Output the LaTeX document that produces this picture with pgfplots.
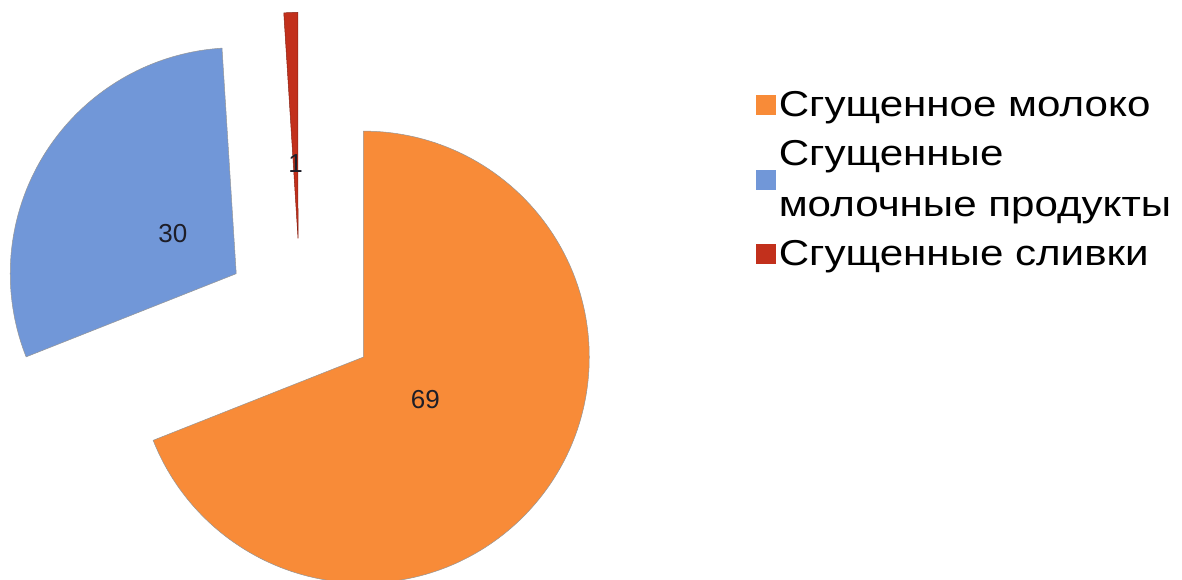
\documentclass[border=0pt]{standalone}
\usepackage{pgfplots}
\pgfplotsset{compat=1.18}
\usepackage{pgfplotstable}
\usepackage{fontspec}
\setmainfont{Liberation Sans}
\newfontfamily\legfont{Liberation Sans}[FakeStretch=1.17]
\definecolor{orangeC}{RGB}{248,139,56}
\definecolor{blueC}{RGB}{113,151,216}
\definecolor{redC}{RGB}{194,48,28}
\definecolor{edgeC}{RGB}{150,150,150}
\definecolor{labC}{RGB}{30,30,40}

\pgfplotstableread{
share
69
30
1
}\piedata

\begin{document}
\begin{tikzpicture}
\pgfplotstablegetelem{0}{share}\of\piedata \let\vA\pgfplotsretval
\pgfplotstablegetelem{1}{share}\of\piedata \let\vB\pgfplotsretval
\pgfplotstablegetelem{2}{share}\of\piedata \let\vC\pgfplotsretval
\pgfmathsetmacro\tot{\vA+\vB+\vC}
\def\cx{300.4}\def\cy{265.6}\def\R{226}\def\ex{76}\def\lr{151}
\pgfmathsetmacro\sA{90}
\pgfmathsetmacro\eA{\sA-360*(\vA/\tot)}
\pgfmathsetmacro\eB{\eA-360*(\vB/\tot)}
\pgfmathsetmacro\eC{\eB-360*(\vC/\tot)}
\pgfmathsetmacro\mA{(\sA+\eA)/2}
\pgfmathsetmacro\mB{(\eA+\eB)/2}
\pgfmathsetmacro\mC{(\eB+\eC)/2}
\pgfmathsetmacro\xA{\cx+\ex*cos(\mA)}\pgfmathsetmacro\yA{\cy+\ex*sin(\mA)}
\pgfmathsetmacro\xB{\cx+\ex*cos(\mB)}\pgfmathsetmacro\yB{\cy+\ex*sin(\mB)}
\pgfmathsetmacro\xC{\cx+\ex*cos(\mC)}\pgfmathsetmacro\yC{\cy+\ex*sin(\mC)}
\pgfmathsetmacro\lxA{\cx+\lr*cos(\mA)}\pgfmathsetmacro\lyA{\cy+\lr*sin(\mA)}
\pgfmathsetmacro\lxB{\cx+\lr*cos(\mB)}\pgfmathsetmacro\lyB{\cy+\lr*sin(\mB)}
\pgfmathsetmacro\lxC{\cx+\lr*cos(\mC)}\pgfmathsetmacro\lyC{\cy+\lr*sin(\mC)}
\begin{axis}[
  x=1pt, y=1pt,
  xmin=0, xmax=1182, ymin=0, ymax=580,
  hide axis, clip=true,
  anchor=origin, at={(0,0)},
  legend cell align=left,
  legend style={draw=none, fill=none, inner sep=0pt,
    at={(axis description cs:0.6393,0.8425)}, anchor=north west,
    font=\legfont\fontsize{36}{51}\selectfont,
    row sep=22.5pt,
    nodes={inner xsep=3.5pt, inner ysep=0pt, align=left},
    cells={anchor=west}},
]
\fill[orangeC, draw=edgeC, line width=0.5pt] (axis cs:\xA,\yA) -- ++(\sA:\R pt) arc[start angle=\sA, end angle=\eA, radius=\R pt] -- cycle;
\fill[blueC, draw=edgeC, line width=0.5pt] (axis cs:\xB,\yB) -- ++(\eA:\R pt) arc[start angle=\eA, end angle=\eB, radius=\R pt] -- cycle;
\fill[redC, draw=redC!70!black, line width=0.5pt] (axis cs:\xC,\yC) -- ++(\eB:\R pt) arc[start angle=\eB, end angle=\eC, radius=\R pt] -- cycle;
\node[text=labC, font=\fontsize{26}{30}\selectfont] at (axis cs:\lxA,\lyA) {\vA};
\node[text=labC, font=\fontsize{26}{30}\selectfont] at (axis cs:\lxB,\lyB) {\vB};
\node[text=labC, font=\fontsize{26}{30}\selectfont] at (axis cs:\lxC,\lyC) {\vC};
\addlegendimage{legend image code/.code={\fill[orangeC] (0pt,-9.5pt) rectangle (19pt,9.5pt);}}
\addlegendentry{Сгущенное молоко}
\addlegendimage{legend image code/.code={\fill[blueC] (0pt,-9.5pt) rectangle (19pt,9.5pt);}}
\addlegendentry{Сгущенные\\молочные продукты}
\addlegendimage{legend image code/.code={\fill[redC] (0pt,-9.5pt) rectangle (19pt,9.5pt);}}
\addlegendentry{Сгущенные сливки}
\end{axis}
\pgfresetboundingbox
\path[use as bounding box] (0,0) rectangle (1182pt,580pt);
\end{tikzpicture}
\end{document}
